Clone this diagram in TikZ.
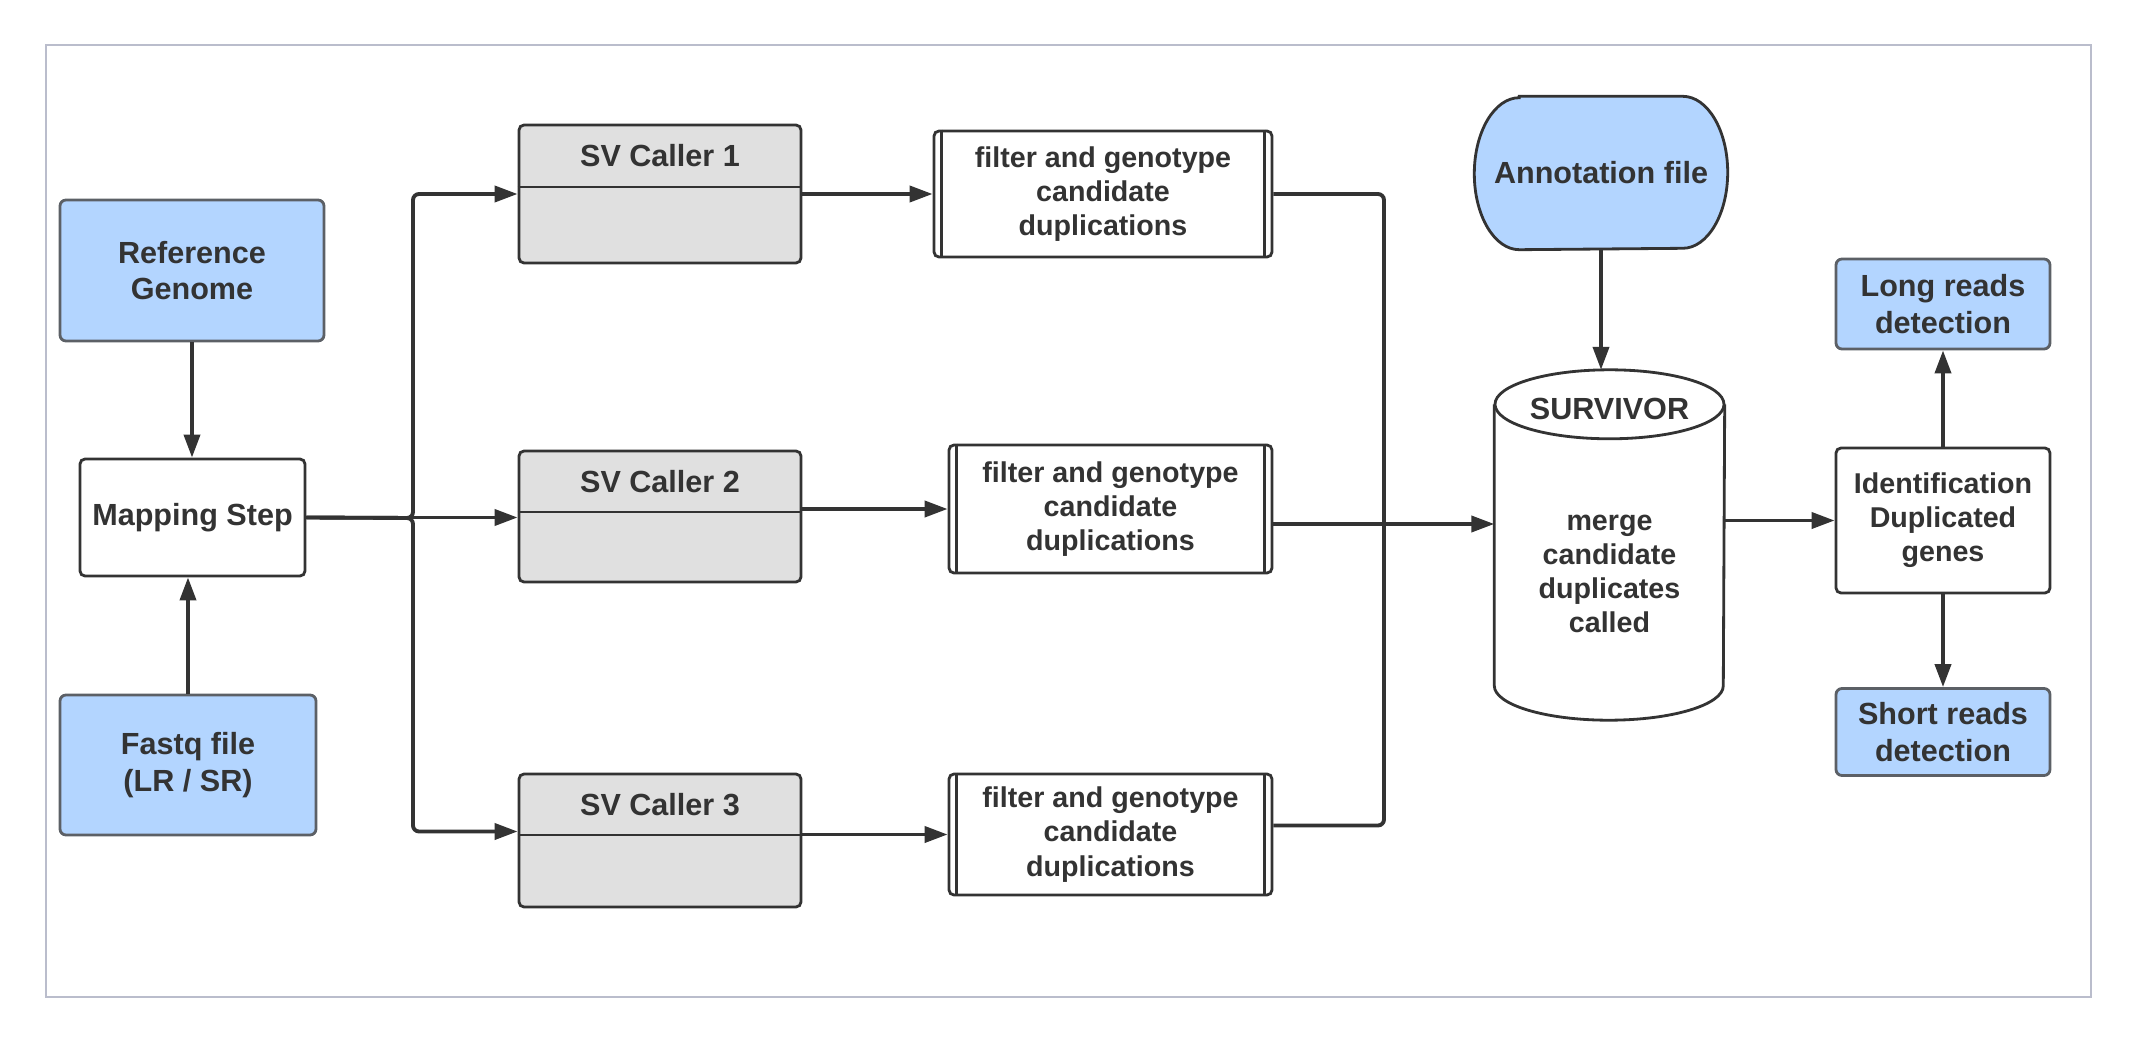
\documentclass[tikz,border=0pt]{standalone}
\usepackage{fontspec}
\setmainfont{Liberation Sans}
\usetikzlibrary{arrows.meta, calc}
\definecolor{inkDark}{HTML}{333333}
\definecolor{boxBlue}{HTML}{B3D5FF}
\definecolor{boxGrey}{HTML}{E0E0E0}
\definecolor{edgeGrey}{HTML}{5C6066}
\definecolor{frameGrey}{HTML}{BABDCC}

\begin{document}
\begin{tikzpicture}[x=0.1mm, y=-0.1mm, >={Triangle[length=2.3mm, width=1.6mm]},
    every node/.style={font=\fontsize{8.7}{10.4}\selectfont\bfseries, text=inkDark, align=center, inner sep=0pt},
    smalltext/.style={font=\fontsize{8.15}{9.7}\selectfont\bfseries},
    inbox/.style={draw=edgeGrey, fill=boxBlue, line width=0.8pt, rounded corners=0.6mm},
    plainbox/.style={draw=inkDark, fill=white, line width=0.8pt, rounded corners=0.5mm},
    callerbox/.style={draw=inkDark, fill=boxGrey, line width=0.8pt, rounded corners=0.5mm},
    edge/.style={draw=inkDark, line width=0.8pt},
    link/.style={->, draw=inkDark, line width=1.1pt, rounded corners=0.6mm}]
    \useasboundingbox (0,0) rectangle (2136,1044);
    \draw[frameGrey, line width=0.6pt] (46,45) rectangle (2091,997);

    % inputs and mapping
    \node[inbox, minimum width=26.4mm, minimum height=14.1mm] (ref) at (192,270.5) {Reference\\Genome};
    \node[plainbox, minimum width=22.5mm, minimum height=11.7mm] (map) at (192.5,517.5) {Mapping Step};
    \node[inbox, minimum width=25.6mm, minimum height=14mm] (fq) at (188,765) {Fastq file\\(LR / SR)};

    % SV callers
    \node[callerbox, minimum width=28.2mm, minimum height=13.8mm] (c1) at (660,194) {};
    \node[callerbox, minimum width=28.2mm, minimum height=13.1mm] (c2) at (660,516.5) {};
    \node[callerbox, minimum width=28.2mm, minimum height=13.3mm] (c3) at (660,840.5) {};
    \draw[edge] (c1.west |- 0,187) -- (c1.east |- 0,187);
    \draw[edge] (c2.west |- 0,512) -- (c2.east |- 0,512);
    \draw[edge] (c3.west |- 0,835) -- (c3.east |- 0,835);
    \node (c1t) at (660,156) {SV Caller 1};
    \node (c2t) at (660,481.5) {SV Caller 2};
    \node (c3t) at (660,804.5) {SV Caller 3};

    % filter boxes
    \node[plainbox, smalltext, minimum width=33.8mm, minimum height=12.6mm] (f1) at (1103,194) {filter and genotype\\candidate\\duplications};
    \node[plainbox, smalltext, minimum width=32.3mm, minimum height=12.8mm] (f2) at (1110.5,509) {filter and genotype\\candidate\\duplications};
    \node[plainbox, smalltext, minimum width=32.3mm, minimum height=12.1mm] (f3) at (1110.5,834.5) {filter and genotype\\candidate\\duplications};
    \draw[edge] ($(f1.north west)+(9,0)$) -- ($(f1.south west)+(9,0)$);
    \draw[edge] ($(f1.north east)+(-9,0)$) -- ($(f1.south east)+(-9,0)$);
    \draw[edge] ($(f2.north west)+(9,0)$) -- ($(f2.south west)+(9,0)$);
    \draw[edge] ($(f2.north east)+(-9,0)$) -- ($(f2.south east)+(-9,0)$);
    \draw[edge] ($(f3.north west)+(9,0)$) -- ($(f3.south west)+(9,0)$);
    \draw[edge] ($(f3.north east)+(-9,0)$) -- ($(f3.south east)+(-9,0)$);

    % annotation file
    \node[minimum width=25.2mm, minimum height=15.2mm] (ann) at (1601,173) {};
    \draw[edge, fill=boxBlue] ($(ann.north west)+(45,0)$) -- ($(ann.north east)+(-45,0)$)
        arc[start angle=90, end angle=-90, x radius=4.5mm, y radius=7.6mm]
        -- ($(ann.south west)+(45,0)$)
        arc[start angle=270, end angle=90, x radius=4.5mm, y radius=7.6mm] -- cycle;
    \node (anntext) at (ann) {Annotation file};

    % SURVIVOR cylinder
    \node[minimum width=22.9mm, minimum height=34.9mm] (surv) at (1609.5,545) {};
    \draw[edge, fill=white] ($(surv.north west)+(0,34.5)$) -- ($(surv.south west)+(0,-34.5)$)
        arc[start angle=180, end angle=360, x radius=11.45mm, y radius=3.45mm]
        -- ($(surv.north east)+(0,34.5)$);
    \draw[edge, fill=white] ($(surv.north)+(0,34.5)$) ellipse[x radius=11.45mm, y radius=3.45mm];
    \node (survtop) at (1609.5,409) {SURVIVOR};
    \node[smalltext] (survtext) at (1609.5,574) {merge\\candidate\\duplicates\\called};

    % results
    \node[plainbox, smalltext, minimum width=21.4mm, minimum height=14.5mm] (ident) at (1943,520.5) {Identification\\Duplicated\\genes};
    \node[inbox, minimum width=21.4mm, minimum height=9mm] (long) at (1943,304) {Long reads\\detection};
    \node[inbox, minimum width=21.4mm, minimum height=8.7mm] (short) at (1943,732) {Short reads\\detection};

    % connectors
    \coordinate (split) at (413,518);
    \coordinate (merge) at (1384,524);
    \draw[link] (ref) -- (ref.south |- map.north);
    \draw[link] (fq) -- (fq.north |- map.south);
    \draw[link] (map.east) -- (split) |- (c1.west);
    \draw[link] (map.east) -- (map.east -| c2.west);
    \draw[link] (map.east) -- (split) |- ($(c3.west)+(0,-9)$);
    \draw[link] (f1.west -| c1.east) -- (f1.west);
    \draw[link] (f2.west -| c2.east) -- (f2.west);
    \draw[link] (f3.west -| c3.east) -- (f3.west);
    \draw[link, -] (f1.east) -| (merge);
    \draw[link, -] ($(f3.east)+(0,-9)$) -| (merge);
    \draw[link] (f2.east |- merge) -- (merge -| surv.west);
    \draw[link] (ann.south) -- (ann.south |- surv.north);
    \draw[link] (surv.east |- ident.west) -- (ident.west);
    \draw[link] (ident.north) -- (long.south);
    \draw[link] (ident.south) -- (short.north);
\end{tikzpicture}
\end{document}
